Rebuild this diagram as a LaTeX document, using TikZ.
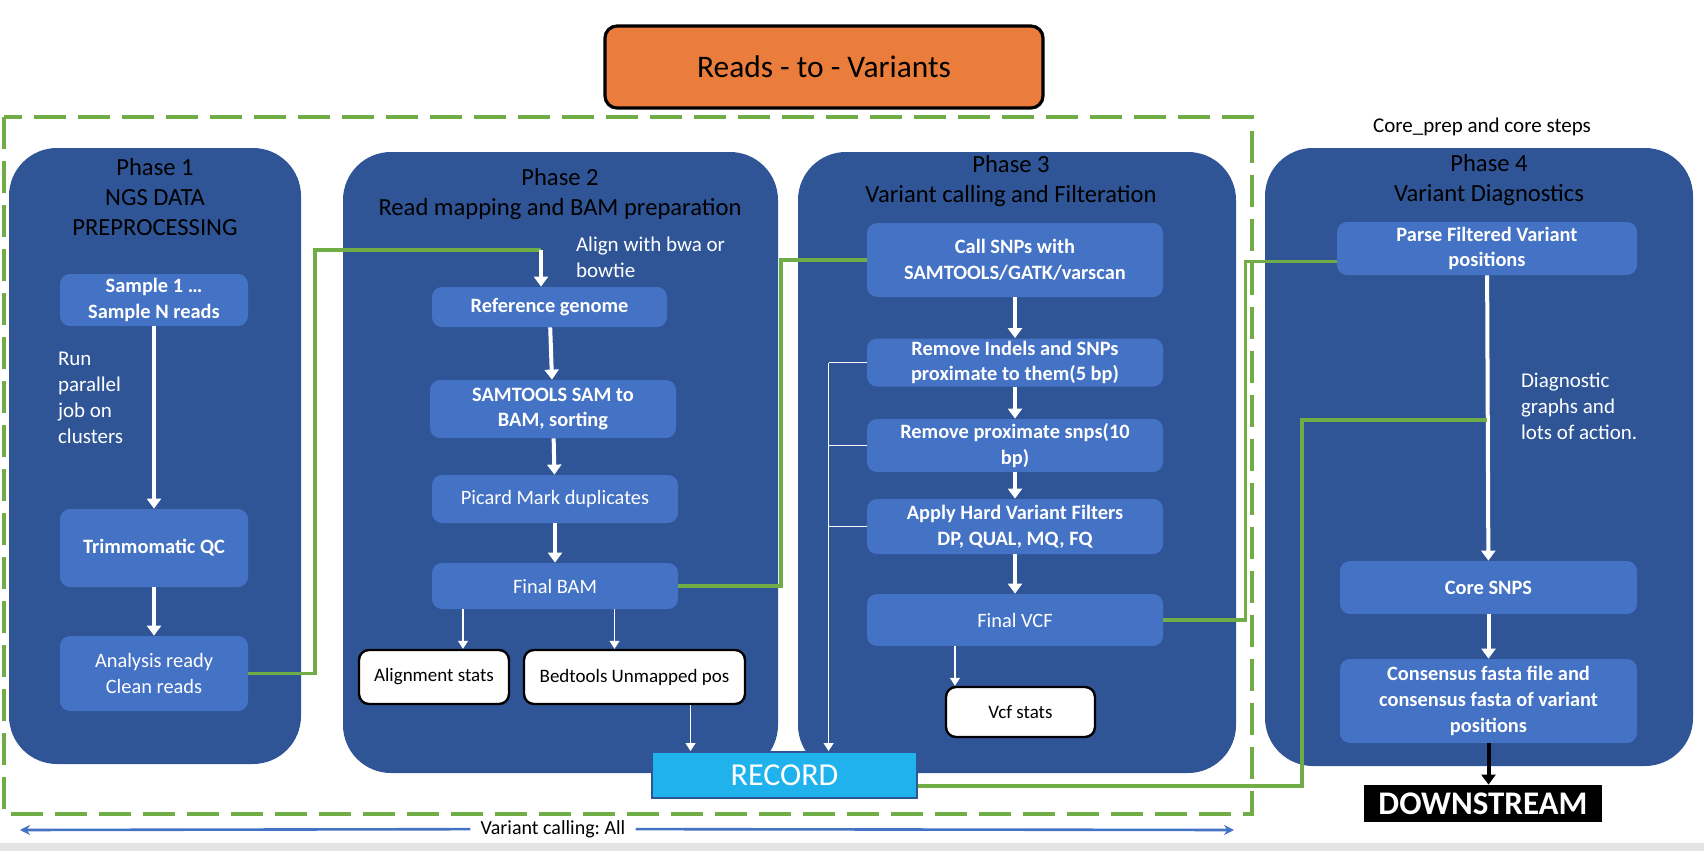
\documentclass[tikz,border=0pt]{standalone}
\usepackage{fontspec}
\setmainfont{Carlito}
\frenchspacing
\usetikzlibrary{arrows.meta}

\definecolor{phaseblue}{RGB}{47,85,151}
\definecolor{taskblue}{RGB}{68,114,196}
\definecolor{linkgreen}{RGB}{112,173,71}
\definecolor{titleorange}{RGB}{234,125,59}
\definecolor{recordblue}{RGB}{32,178,236}
\definecolor{spanblue}{RGB}{68,114,196}

\begin{document}
\begin{tikzpicture}[x=0.5pt, y=-0.5pt,
    phase/.style={rectangle, rounded corners=24pt, fill=phaseblue, inner sep=0pt},
    heading/.style={align=center, text=black, font=\fontsize{12.3}{15}\selectfont},
    task/.style={rectangle, rounded corners=5pt, fill=taskblue, text=white, align=center, inner sep=0pt, font=\bfseries\fontsize{10.2}{12.8}\selectfont},
    tasklight/.style={task, font=\fontsize{10.2}{12.8}\selectfont},
    statbox/.style={rectangle, rounded corners=5pt, draw=black, line width=1.2pt, fill=white, inner sep=0pt, font=\fontsize{9.5}{11}\selectfont},
    note/.style={anchor=west, align=left, text=white, font=\fontsize{10.5}{13}\selectfont},
    arrow/.style={-{Triangle[length=5pt, width=7pt]}, white, line width=2pt},
    thinarrow/.style={-{Triangle[length=4pt, width=5pt]}, white, line width=0.6pt},
    link/.style={linkgreen, line width=1.7pt}
]

\useasboundingbox (0,0) rectangle (1704,851);
\fill[gray!22] (0,843) rectangle (1704,851);

% Title
\node[rectangle, rounded corners=6pt, draw=black, line width=1.6pt, fill=titleorange, minimum width=219pt, minimum height=41pt, font=\fontsize{15.7}{18}\selectfont] (title) at (824,67) {Reads - to - Variants};

% Variant calling frame
\draw[linkgreen, line width=2.2pt, dash pattern=on 16pt off 6pt] (4,117) rectangle (1252,814);

% Phase boxes
\node[phase, minimum width=146pt, minimum height=308pt] (ph1) at (155,456) {};
\node[phase, minimum width=217.5pt, minimum height=310.5pt] (ph2) at (560.5,462.5) {};
\node[phase, minimum width=219pt, minimum height=310.5pt] (ph3) at (1017,462.5) {};
\node[phase, minimum width=214pt, minimum height=309pt] (ph4) at (1479,457) {};

% Phase 1
\node[heading] (h1) at (155,197) {Phase 1\\NGS DATA\\PREPROCESSING};
\node[task, minimum width=94pt, minimum height=26pt] (samples) at (154,300) {Sample 1 …\\Sample N reads};
\node[note] (runjob) at (51,398) {Run\\parallel\\job on\\clusters};
\node[task, minimum width=94pt, minimum height=39pt] (trim) at (154,548) {Trimmomatic QC};
\node[tasklight, minimum width=94pt, minimum height=37.5pt] (clean) at (154,673.5) {Analysis ready\\Clean reads};

\draw[arrow] (samples) -- (trim);
\draw[arrow] (trim) -- (clean);

% Phase 2
\node[heading] (h2) at (560,194) {Phase 2\\Read mapping and BAM preparation};
\node[note] (aligner) at (569,257) {Align with bwa or\\bowtie};
\node[task, minimum width=117.5pt, minimum height=20pt] (refgen) at (549.5,307) {Reference genome};
\node[task, minimum width=123pt, minimum height=29pt] (sam2bam) at (553,409) {SAMTOOLS SAM to\\BAM, sorting};
\node[tasklight, minimum width=123pt, minimum height=24pt] (picard) at (555,499) {Picard Mark duplicates};
\node[tasklight, minimum width=123pt, minimum height=23pt] (finalbam) at (555,586) {Final BAM};
\node[statbox, minimum width=75pt, minimum height=27pt] (alnstats) at (434,677) {Alignment stats};
\node[statbox, minimum width=110.5pt, minimum height=27pt] (unmapped) at (634.5,677) {Bedtools Unmapped pos};

\coordinate (bend1) at (315,250);
\coordinate (alignin) at (541,250);
\draw[link] (clean.east) -| (bend1) -- (alignin);
\draw[arrow] (alignin) -- (alignin |- refgen.north);
\draw[arrow] (refgen) -- (sam2bam);
\draw[arrow] (sam2bam) -- (picard);
\draw[arrow] (picard) -- (finalbam);

\coordinate (alnin) at ([xshift=14.5pt]alnstats.north);
\coordinate (bedin) at ([xshift=-10pt]unmapped.north);
\draw[thinarrow] (alnin |- finalbam.south) -- (alnin);
\draw[thinarrow] (bedin |- finalbam.south) -- (bedin);

% Phase 3
\node[heading] (h3) at (1011,181) {Phase 3\\Variant calling and Filteration};
\node[task, minimum width=148pt, minimum height=37pt] (callsnp) at (1015,260) {Call SNPs with\\SAMTOOLS/GATK/varscan};
\node[task, minimum width=148pt, minimum height=24pt] (indels) at (1015,362.5) {Remove Indels and SNPs\\proximate to them(5 bp)};
\node[task, minimum width=148pt, minimum height=26.5pt] (proxsnp) at (1015,445.5) {Remove proximate snps(10\\bp)};
\node[task, minimum width=148pt, minimum height=27.5pt] (hardfilt) at (1015,526.5) {Apply Hard Variant Filters\\DP, QUAL, MQ, FQ};
\node[tasklight, minimum width=148pt, minimum height=26pt] (finalvcf) at (1015,620) {Final VCF};
\node[statbox, minimum width=74.5pt, minimum height=25pt] (vcfstats) at (1020.5,712) {Vcf stats};

\draw[arrow] (callsnp) -- (indels);
\draw[arrow] (indels) -- (proxsnp);
\draw[arrow] (proxsnp) -- (hardfilt);
\draw[arrow] (hardfilt) -- (finalvcf);

\coordinate (vcfout) at ([xshift=-30pt]finalvcf.south);
\draw[thinarrow] (vcfout) -- (vcfout |- vcfstats.north);

\coordinate (bend2) at (781,260);
\draw[link] (finalbam.east) -| (bend2) -- (callsnp.west);

% RECORD
\node[rectangle, fill=recordblue, draw=phaseblue, line width=1pt, text=white, minimum width=132.5pt, minimum height=23pt, font=\fontsize{16}{18}\selectfont] (record) at (784.5,775) {RECORD};

\coordinate (bedout) at ([xshift=28pt]unmapped.south);
\draw[thinarrow] (bedout) -- (bedout |- record.north);

\coordinate (rail) at ([xshift=-19pt]indels.west);
\draw[white, line width=0.6pt] (indels.west) -- (rail);
\draw[white, line width=0.6pt] (proxsnp.west) -- (rail |- proxsnp.west);
\draw[white, line width=0.6pt] (hardfilt.west) -- (rail |- hardfilt.west);
\draw[thinarrow] (rail) -- (rail |- record.north);

% Phase 4
\node[font=\fontsize{10.5}{12}\selectfont] (corenote) at (1482,127) {Core\_prep and core steps};
\node[heading] (h4) at (1489,180) {Phase 4\\Variant Diagnostics};
\node[task, minimum width=150pt, minimum height=26.5pt] (parse) at (1487,248.5) {Parse Filtered Variant\\positions};
\node[note] (diagnote) at (1514,406) {Diagnostic\\graphs and\\lots of action.};
\node[task, minimum width=148.5pt, minimum height=26.5pt] (coresnp) at (1488.5,587.5) {Core SNPS};
\node[task, minimum width=148.5pt, minimum height=42pt] (consensus) at (1488.5,701) {Consensus fasta file and\\consensus fasta of variant\\positions};
\node[rectangle, fill=black, text=white, minimum width=119pt, minimum height=18.5pt, font=\bfseries\fontsize{16.5}{18}\selectfont] (downstream) at (1483,803.5) {DOWNSTREAM};

\draw[arrow] (parse) -- (coresnp);
\draw[arrow] (coresnp) -- (consensus);
\draw[arrow, black] (consensus.south) -- (consensus.south |- downstream.north);

\coordinate (parsein) at ([yshift=-6.5pt]parse.west);
\draw[link] (finalvcf.east) -| ([xshift=-45.5pt]parsein) -- (parsein);

\coordinate (bend4) at (1302,420);
\coordinate (diagin) at (1487,420);
\draw[link] ([yshift=-5.5pt]record.east) -| (bend4) -- (diagin);

% Span of variant calling
\node[inner sep=5pt, font=\fontsize{10}{12}\selectfont] (span) at (553,829) {Variant calling: All};
\coordinate (spanleft) at (20,830);
\coordinate (spanright) at (1234,830);
\draw[spanblue, line width=1.3pt, -{Stealth[length=5pt, width=5pt]}] (span) -- (spanleft);
\draw[spanblue, line width=1.3pt, -{Stealth[length=5pt, width=5pt]}] (span) -- (spanright);

\end{tikzpicture}
\end{document}
